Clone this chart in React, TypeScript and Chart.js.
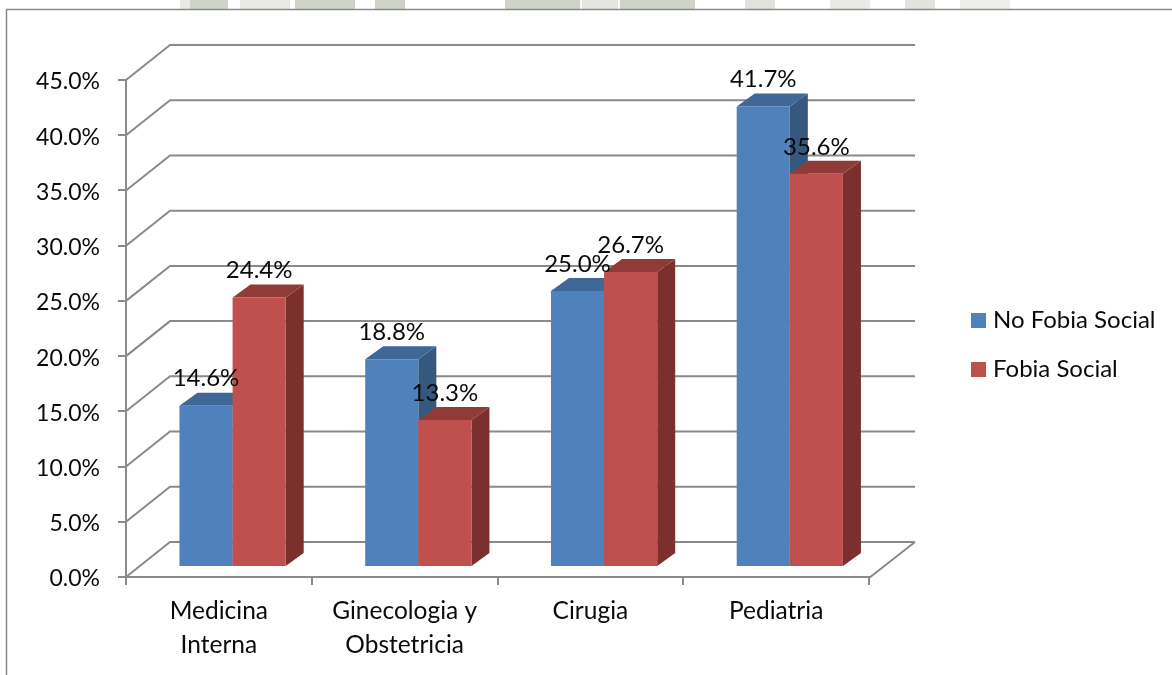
import React, { useEffect, useRef } from "react";
import { Chart, registerables } from "chart.js";

Chart.register(...registerables);

const categories = [["Medicina", "Interna"], ["Ginecologia y", "Obstetricia"], ["Cirugia"], ["Pediatria"]];
const noFobia = [14.6, 18.8, 25.0, 41.7];
const fobia = [24.4, 13.3, 26.7, 35.6];
const seriesNames = ["No Fobia Social", "Fobia Social"];

const FONT = "Lato, 'Open Sans', sans-serif";
const INK = "#0a0a0a";
const LINE = "#8a8a8a";
const WALL = { dx: 44, dy: -35, right: 915 };
const BAR_SHIFT = { dx: 13.7, dy: -10 };
const DEPTH = { dx: 18, dy: -13 };
const FACES = [
  { front: "#4F81BD", top: "#3F6797", side: "#35587F" },
  { front: "#C0504D", top: "#913B39", side: "#7B302E" },
];
const WATERMARK: [number, number, string][] = [
  [180, 10, "#e8ebe5"], [190, 38, "#ced5c8"], [240, 50, "#e8ebe5"], [295, 60, "#ced5c8"],
  [375, 30, "#ced5c8"], [505, 75, "#ced5c8"], [582, 36, "#e4e7e1"], [620, 75, "#ced5c8"],
  [745, 30, "#dfe3db"], [830, 40, "#e8ebe5"], [905, 30, "#e0e4dc"], [960, 50, "#eceee9"],
];

function poly(ctx: CanvasRenderingContext2D, pts: number[][], fill: string) {
  ctx.beginPath();
  pts.forEach(([x, y], i) => (i ? ctx.lineTo(x, y) : ctx.moveTo(x, y)));
  ctx.closePath();
  ctx.fillStyle = fill;
  ctx.fill();
}

const decor = {
  id: "decor",
  afterLayout(chart: any) {
    // the value labels of the reference sit 2px under their ticks
    const s = chart.scales.y;
    if (s.__shifted) return;
    s.__shifted = true;
    const orig = s.drawLabels;
    s.drawLabels = function (area: any) {
      chart.ctx.save();
      chart.ctx.translate(0, 2);
      orig.call(this, area);
      chart.ctx.restore();
    };
  },
  beforeDraw(chart: any) {
    const { ctx, scales } = chart;
    const { x: xs, y: ys } = scales;
    ctx.save();
    WATERMARK.forEach(([x, w, c]) => {
      ctx.fillStyle = c;
      ctx.fillRect(x, 0, w, 9);
    });
    ctx.strokeStyle = LINE;
    ctx.lineWidth = 1.5;
    ctx.beginPath();
    ctx.moveTo(6.5, 675);
    ctx.lineTo(6.5, 9.5);
    ctx.lineTo(1172, 9.5);
    ctx.stroke();
    // 3D walls, from the value axis' own ticks
    ctx.lineWidth = 2;
    const x0 = xs.left;
    ys.ticks.forEach((t: any) => {
      const y = ys.getPixelForValue(t.value);
      ctx.beginPath();
      ctx.moveTo(x0, y);
      ctx.lineTo(x0 + WALL.dx, y + WALL.dy);
      ctx.lineTo(WALL.right, y + WALL.dy);
      ctx.stroke();
    });
    const yb = ys.getPixelForValue(0);
    ctx.beginPath();
    ctx.moveTo(xs.right, yb + 1);
    ctx.lineTo(WALL.right, yb + WALL.dy);
    ctx.stroke();
    ctx.restore();
  },
  // Skip the default back-to-front pass: the left series has to be painted first.
  beforeDatasetDraw() {
    return false;
  },
  afterDatasetsDraw(chart: any) {
    const { ctx } = chart;
    ctx.save();
    ctx.translate(BAR_SHIFT.dx, BAR_SHIFT.dy);
    [0, 1].forEach((di) => {
      const face = FACES[di];
      chart.getDatasetMeta(di).data.forEach((bar: any) => {
        const { x, y, base, width } = bar.getProps(["x", "y", "base", "width"], true);
        const l = x - width / 2;
        const r = x + width / 2;
        poly(ctx, [[r, y], [r + DEPTH.dx, y + DEPTH.dy], [r + DEPTH.dx, base + DEPTH.dy], [r, base]], face.side);
        poly(ctx, [[l, y], [l + DEPTH.dx, y + DEPTH.dy], [r + DEPTH.dx, y + DEPTH.dy], [r, y]], face.top);
        bar.draw(ctx);
      });
    });
    ctx.restore();
  },
  afterDraw(chart: any) {
    const { ctx } = chart;
    ctx.save();
    ctx.font = `24px ${FONT}`;
    ctx.fillStyle = INK;
    ctx.textAlign = "center";
    ctx.textBaseline = "middle";
    [0, 1].forEach((di) => {
      chart.getDatasetMeta(di).data.forEach((bar: any, i: number) => {
        const { x, y } = bar.getProps(["x", "y"], true);
        const v = chart.data.datasets[di].data[i];
        ctx.fillText(`${v.toFixed(1)}%`, x + BAR_SHIFT.dx, y + BAR_SHIFT.dy - 27);
      });
    });
    ctx.textAlign = "left";
    seriesNames.forEach((name, i) => {
      const cy = 320.5 + i * 49;
      ctx.fillStyle = FACES[i].front;
      ctx.fillRect(971, cy - 7.5, 15, 15);
      ctx.fillStyle = INK;
      ctx.fillText(name, 993, cy);
    });
    ctx.restore();
  },
};

export default function App() {
  const ref = useRef<HTMLCanvasElement>(null);
  useEffect(() => {
    const chart = new Chart(ref.current!, {
      type: "bar",
      data: {
        labels: categories as any,
        datasets: [
          { label: seriesNames[0], data: noFobia, backgroundColor: FACES[0].front },
          { label: seriesNames[1], data: fobia, backgroundColor: FACES[1].front },
        ],
      },
      options: {
        responsive: false,
        animation: false,
        layout: { padding: { top: 80, right: 303, left: 0, bottom: 0 } },
        plugins: { legend: { display: false }, tooltip: { enabled: false } },
        datasets: { bar: { categoryPercentage: 0.572, barPercentage: 1 } },
        scales: {
          x: {
            afterFit: (s: any) => { s.height = 98; },
            grid: { drawOnChartArea: false, color: LINE, lineWidth: 2, tickLength: 8 },
            border: { color: LINE, width: 2 },
            ticks: {
              color: INK,
              padding: 10,
              autoSkip: false,
              maxRotation: 0,
              font: { family: FONT, size: 24.5, lineHeight: 1.35 },
            },
          },
          y: {
            min: 0,
            max: 45,
            afterFit: (s: any) => { s.width = 126; },
            grid: { drawOnChartArea: false, color: LINE, lineWidth: 2, tickLength: 8 },
            border: { color: LINE, width: 2 },
            ticks: {
              stepSize: 5,
              color: INK,
              padding: 18,
              font: { family: FONT, size: 23 },
              callback: (v: any) => `${Number(v).toFixed(1)}%`,
            },
          },
        },
      },
      plugins: [decor],
    } as any);
    return () => chart.destroy();
  }, []);
  return (
    <canvas
      ref={ref}
      width={1172}
      height={675}
      style={{ position: "fixed", left: 0, top: 0, width: 1172, height: 675, background: "#fff" }}
    />
  );
}
